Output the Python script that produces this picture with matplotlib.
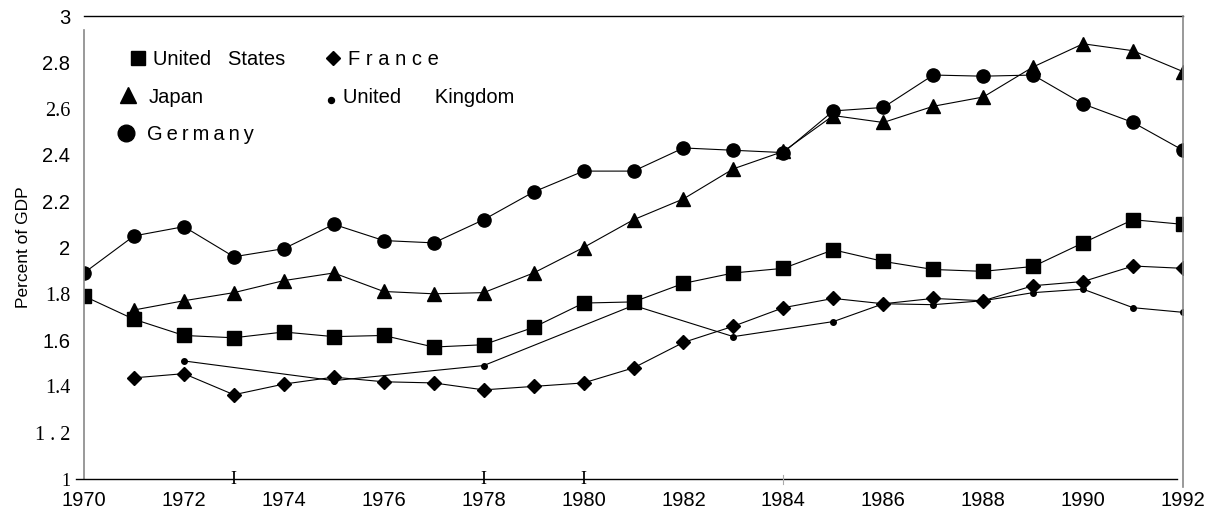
import numpy as np
import matplotlib
matplotlib.use("Agg")
import matplotlib.pyplot as plt
from matplotlib.lines import Line2D

plt.rcParams['font.family'] = ['Liberation Sans', 'DejaVu Sans']

# ---------------- data ----------------
years = list(range(1970, 1993))
nan = np.nan
united_states = [1.79, 1.69, 1.62, 1.61, 1.635, 1.615, 1.62, 1.57, 1.58, 1.655, 1.76, 1.765,
                 1.845, 1.89, 1.91, 1.99, 1.94, 1.905, 1.897, 1.918, 2.02, 2.12, 2.10]
japan = [nan, 1.73, 1.77, 1.805, 1.857, 1.89, 1.81, 1.80, 1.805, 1.89, 2.00, 2.12,
         2.21, 2.34, 2.415, 2.57, 2.54, 2.61, 2.65, 2.78, 2.88, 2.85, 2.76]
germany = [1.89, 2.05, 2.09, 1.96, 1.995, 2.10, 2.03, 2.02, 2.12, 2.24, 2.33, 2.33,
           2.43, 2.42, 2.41, 2.59, 2.605, 2.745, 2.74, 2.745, 2.62, 2.54, 2.42]
france = [nan, 1.437, 1.455, 1.364, 1.41, 1.44, 1.42, 1.415, 1.385, 1.40, 1.415, 1.48,
          1.59, 1.66, 1.74, 1.78, 1.757, 1.78, 1.77, 1.835, 1.853, 1.92, 1.91]
uk_years = [1972, 1975, 1978, 1981, 1983, 1985, 1986, 1987, 1988, 1989, 1990, 1991, 1992]
united_kingdom = [1.51, 1.425, 1.49, 1.75, 1.615, 1.68, 1.757, 1.753, 1.77, 1.805, 1.82, 1.74, 1.72]

xticks = list(range(1970, 1993, 2))
yticks = [1, 1.2, 1.4, 1.6, 1.8, 2, 2.2, 2.4, 2.6, 2.8, 3]
ytick_labels = ["1", "1 . 2", "1.4", "1.6", "1.8", "2", "2.2", "2.4", "2.6", "2.8", "3"]
serif_labels = {"1", "1 . 2", "1.4", "1.8", "2.6"}

# ---------------- figure ----------------
W, H = 1209, 517
fig = plt.figure(figsize=(W / 100, H / 100), dpi=100)
L, R, T, B = 84, 1183, 16, 479
ax = fig.add_axes([L / W, 1 - B / H, (R - L) / W, (B - T) / H])
ax.set_xlim(1970, 1992)
ax.set_ylim(1, 3)
for s in ax.spines.values():
    s.set_visible(False)

lw = 0.8
ax.plot(years, united_states, color='black', lw=lw, marker='s', ms=9.5, zorder=3)
ax.plot(years, japan, color='black', lw=lw, marker='^', ms=10, zorder=3)
ax.plot(years, germany, color='black', lw=lw, marker='o', ms=9.5, zorder=3)
ax.plot(years, france, color='black', lw=lw, marker='D', ms=7.4, zorder=3)
ax.plot(uk_years, united_kingdom, color='black', lw=lw, marker='o', ms=4, zorder=4)

ax.set_xticks(xticks)
ax.set_xticklabels([str(x) for x in xticks], fontsize=14.5)
ax.set_yticks(yticks)
ax.set_yticklabels(ytick_labels, fontsize=14.5)
for lab in ax.get_yticklabels():
    if lab.get_text() in serif_labels:
        lab.set_family(['Liberation Serif', 'DejaVu Serif'])
    if lab.get_text() == "1":
        lab.set_fontsize(13)
ax.tick_params(axis='both', length=0)
ax.tick_params(axis='x', pad=8.5)
ax.tick_params(axis='y', pad=10)

ax.set_ylabel("Percent of GDP", fontsize=12.5)
ax.yaxis.set_label_coords(-(L - 31) / (R - L), 0.5)


def fx(px):
    return px / W


def fy(py):
    return 1 - py / H


def fline(xs, ys, color, lw_):
    fig.add_artist(Line2D([fx(x) for x in xs], [fy(y) for y in ys],
                          color=color, lw=lw_, transform=fig.transFigure))


# frame (as in the scan)
fline([84, 1183], [16, 16], 'black', 1.0)
fline([84, 84], [30, 479], '#888888', 1.2)
fline([1183, 1183], [16, 487], '#888888', 1.2)
fline([76, 1177], [479, 479], 'black', 1.0)
fline([783, 783], [475, 484], '#aaaaaa', 0.8)

# tick artifacts on the x axis
for yr in [1973, 1978, 1980]:
    ax.text(yr, 1.0, "I", ha='center', va='center', fontsize=13,
            family=['Liberation Serif', 'DejaVu Serif'], clip_on=False)

# ---------------- legend (drawn manually) ----------------
def fmark(px, py, marker, ms):
    fig.add_artist(Line2D([fx(px)], [fy(py)], marker=marker, ms=ms, color='black',
                          lw=0, transform=fig.transFigure))


lfs = 14.5
fmark(138, 57.5, 's', 9.6)
fig.text(fx(153), fy(65), "United   States", fontsize=lfs, va='baseline')
fmark(333, 58, 'D', 7.0)
fig.text(fx(348), fy(65), "F r a n c e", fontsize=lfs, va='baseline')
fmark(128, 95, '^', 11)
fig.text(fx(149), fy(103), "Japan", fontsize=lfs, va='baseline')
fmark(331, 100, 'o', 4.3)
fig.text(fx(343), fy(103), "United      Kingdom", fontsize=lfs, va='baseline')
fmark(126, 133, 'o', 12)
fig.text(fx(147), fy(140), "G\u2009e\u2009r\u2009m\u2009a\u2009n\u2009y", fontsize=lfs,
         va='baseline', family=['Liberation Sans', 'DejaVu Sans'])

fig.savefig("out.png", dpi=100)
